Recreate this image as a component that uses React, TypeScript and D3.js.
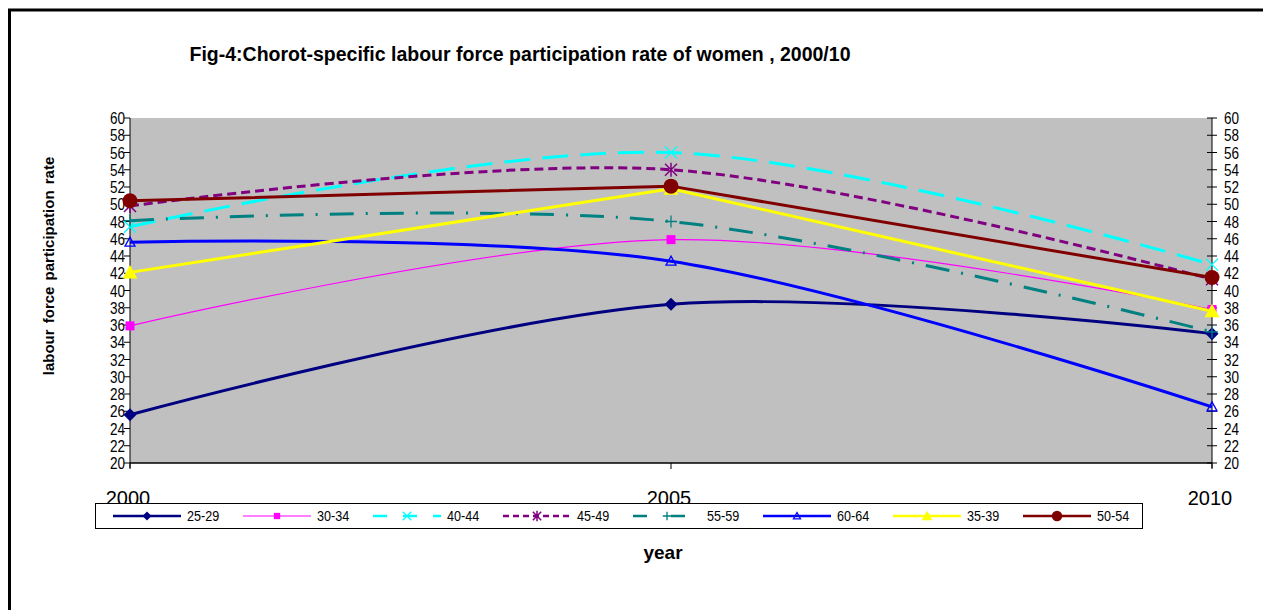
import React from "react";
import * as d3 from "d3";

const years = [2000, 2005, 2010];
const yTicks = d3.range(20, 61, 2);

const s2529 = [25.6, 38.4, 35.0];
const s3034 = [35.9, 45.9, 37.8];
const s4044 = [47.4, 56.0, 43.0];
const s4549 = [49.8, 54.0, 41.3];
const s5559 = [48.1, 48.0, 35.2];
const s6064 = [45.6, 43.4, 26.5];
const s3539 = [42.1, 51.8, 37.6];
const s5054 = [50.4, 52.1, 41.5];

const seriesNames = ["25-29", "30-34", "40-44", "45-49", "55-59", "60-64", "35-39", "50-54"];

type Marker = "diamond" | "square" | "x" | "star" | "plus" | "otri" | "tri" | "circle";
interface Ser { name: string; values: number[]; color: string; width: number; dash: string; marker: Marker; smooth: boolean; }

const series: Ser[] = [
  { name: seriesNames[0], values: s2529, color: "#000080", width: 3, dash: "", marker: "diamond", smooth: true },
  { name: seriesNames[1], values: s3034, color: "#FF00FF", width: 1.2, dash: "", marker: "square", smooth: true },
  { name: seriesNames[2], values: s4044, color: "#00FFFF", width: 3, dash: "26 12", marker: "x", smooth: true },
  { name: seriesNames[3], values: s4549, color: "#800080", width: 3, dash: "9 5", marker: "star", smooth: true },
  { name: seriesNames[4], values: s5559, color: "#008080", width: 3, dash: "24 12 2 12", marker: "plus", smooth: true },
  { name: seriesNames[5], values: s6064, color: "#0000FF", width: 3, dash: "", marker: "otri", smooth: true },
  { name: seriesNames[6], values: s3539, color: "#FFFF00", width: 3, dash: "", marker: "tri", smooth: false },
  { name: seriesNames[7], values: s5054, color: "#800000", width: 3, dash: "", marker: "circle", smooth: false },
];

const X0 = 130, X1 = 1212, Y0 = 463, Y1 = 118;
const x = d3.scaleLinear().domain([2000, 2010]).range([X0, X1]);
const y = d3.scaleLinear().domain([20, 60]).range([Y0, Y1]);

function MarkerShape({ m, cx, cy, color, s = 1 }: { m: Marker; cx: number; cy: number; color: string; s?: number }) {
  switch (m) {
    case "diamond": {
      const r = 6.5 * s;
      return <path d={`M${cx},${cy - r}L${cx + r},${cy}L${cx},${cy + r}L${cx - r},${cy}Z`} fill={color} />;
    }
    case "square": {
      const r = 4.5 * s;
      return <rect x={cx - r} y={cy - r} width={2 * r} height={2 * r} fill={color} />;
    }
    case "x": {
      const r = 6 * s;
      return <path d={`M${cx - r},${cy - r}L${cx + r},${cy + r}M${cx - r},${cy + r}L${cx + r},${cy - r}`} stroke={color} strokeWidth={1.3} />;
    }
    case "star": {
      const r = 6 * s;
      return <path d={`M${cx - r},${cy - r}L${cx + r},${cy + r}M${cx - r},${cy + r}L${cx + r},${cy - r}M${cx},${cy - r - 1}L${cx},${cy + r + 1}`} stroke={color} strokeWidth={1.5} />;
    }
    case "plus": {
      const r = 6 * s;
      return <path d={`M${cx - r},${cy}L${cx + r},${cy}M${cx},${cy - r}L${cx},${cy + r}`} stroke={color} strokeWidth={1.3} />;
    }
    case "otri": {
      const r = 5 * s;
      return <path d={`M${cx},${cy - r}L${cx + r},${cy + r * 0.8}L${cx - r},${cy + r * 0.8}Z`} fill="none" stroke={color} strokeWidth={1.3} />;
    }
    case "tri": {
      const r = 7.5 * s;
      return <path d={`M${cx},${cy - r}L${cx + r},${cy + r * 0.8}L${cx - r},${cy + r * 0.8}Z`} fill={color} />;
    }
    case "circle":
      return <circle cx={cx} cy={cy} r={7.5 * s} fill={color} />;
  }
  return null;
}

const legendStarts = [113, 243, 373, 503, 633, 763, 893, 1023];

export default function App() {
  const font = "'Liberation Sans', Arial, sans-serif";
  return (
    <svg width={1263} height={610} style={{ position: "absolute", left: 0, top: 0, background: "#fff" }}>
      <rect x={9.5} y={10} width={1300} height={700} fill="#fff" stroke="#000" strokeWidth={3} />
      <text x={520} y={61} textAnchor="middle" fontFamily={font} fontWeight="bold" fontSize={19.5}>
        Fig-4:Chorot-specific labour force participation rate of women , 2000/10
      </text>
      <rect x={X0} y={Y1} width={X1 - X0} height={Y0 - Y1} fill="#C0C0C0" />
      {/* left axis */}
      <line x1={X0} x2={X0} y1={Y1} y2={Y0 + 5} stroke="#000" />
      {yTicks.map((t) => (
        <g key={"l" + t}>
          <line x1={X0 - 6} x2={X0} y1={y(t)} y2={y(t)} stroke="#000" />
          <text transform={`translate(${X0 - 5},${y(t) + 6}) scale(0.82,1)`} textAnchor="end" fontFamily={font} fontSize={16.5}>{t}</text>
        </g>
      ))}
      {/* right axis */}
      <line x1={X1} x2={X1} y1={Y1} y2={Y0 + 5} stroke="#000" />
      {yTicks.map((t) => (
        <g key={"r" + t}>
          <line x1={X1 - 5} x2={X1 + 5} y1={y(t)} y2={y(t)} stroke="#000" />
          <text transform={`translate(${X1 + 12},${y(t) + 6}) scale(0.82,1)`} textAnchor="start" fontFamily={font} fontSize={16.5}>{t}</text>
        </g>
      ))}
      {/* bottom axis */}
      <line x1={X0} x2={X1} y1={Y0} y2={Y0} stroke="#000" strokeWidth={1.5} />
      {years.map((yr) => (
        <g key={yr}>
          <line x1={x(yr)} x2={x(yr)} y1={Y0} y2={Y0 + 6} stroke="#000" />
          <text x={x(yr) - 2} y={505} textAnchor="middle" fontFamily={font} fontSize={20}>{yr}</text>
        </g>
      ))}
      <text transform={`translate(54,266) rotate(-90)`} textAnchor="middle" fontFamily={font} fontWeight="bold" fontSize={15} wordSpacing={2}>
        labour force participation  rate
      </text>
      <text x={663} y={559} textAnchor="middle" fontFamily={font} fontWeight="bold" fontSize={19}>year</text>
      {/* series */}
      {series.map((s) => {
        const line = d3
          .line<number>()
          .x((_, i) => x(years[i]))
          .y((v) => y(v))
          .curve(s.smooth ? d3.curveCardinal.tension(0) : d3.curveLinear);
        return (
          <g key={s.name}>
            <path d={line(s.values) || ""} fill="none" stroke={s.color} strokeWidth={s.width} strokeDasharray={s.dash || undefined} />
            {s.values.map((v, i) => (
              <MarkerShape key={i} m={s.marker} cx={x(years[i])} cy={y(v)} color={s.color} />
            ))}
          </g>
        );
      })}
      {/* legend */}
      <rect x={95.5} y={503.5} width={1047} height={25} fill="#fff" stroke="#000" strokeWidth={1} />
      {series.map((s, i) => {
        const lx = legendStarts[i];
        const cy = 516;
        return (
          <g key={"lg" + s.name}>
            <line x1={lx} x2={lx + 68} y1={cy} y2={cy} stroke={s.color} strokeWidth={s.width === 3 ? 2.5 : 1.2} strokeDasharray={s.dash ? (s.marker === "star" ? "6 4" : s.marker === "plus" ? "14 24" : "14 16") : undefined} />
            <MarkerShape m={s.marker} cx={lx + 34} cy={cy} color={s.color} s={0.7} />
            <text transform={`translate(${lx + 74},${cy + 5}) scale(0.9,1)`} fontFamily={font} fontSize={14}>{s.name}</text>
          </g>
        );
      })}
    </svg>
  );
}
